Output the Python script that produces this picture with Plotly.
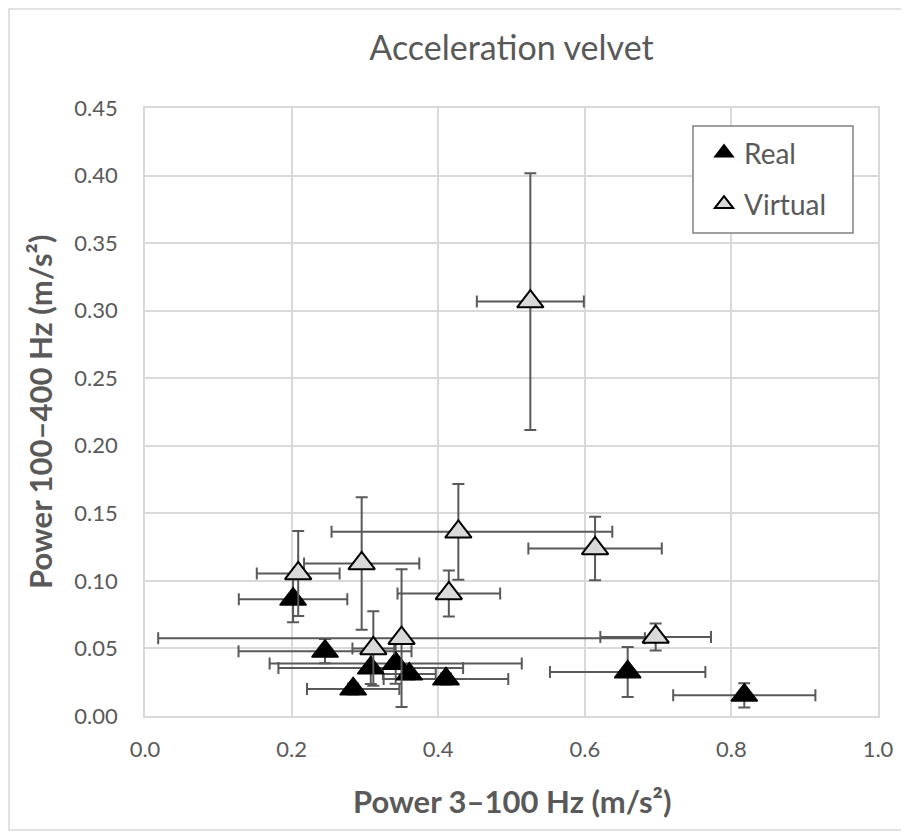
import plotly.graph_objects as go

# ---- data ----
real_x = [0.202, 0.2456, 0.308, 0.342, 0.3606, 0.4106, 0.284, 0.6585, 0.8176]
real_y = [0.0864, 0.048, 0.0356, 0.0388, 0.031, 0.0274, 0.020, 0.0326, 0.0153]
real_xerr = [0.074, 0.118, 0.126, 0.172, 0.036, 0.085, 0.063, 0.106, 0.097]
real_yerr = [0.017, 0.009, 0.012, 0.015, 0.004, 0.004, 0.004, 0.0185, 0.009]

virt_x = [0.209, 0.2956, 0.3115, 0.350, 0.4145, 0.4275, 0.5257, 0.614, 0.6967]
virt_y = [0.1055, 0.1129, 0.050, 0.0576, 0.0907, 0.1363, 0.3067, 0.124, 0.0585]
virt_xerr_plus = [0.0565, 0.0786, 0.0285, 0.332, 0.07, 0.21, 0.073, 0.091, 0.0755]
virt_xerr_minus = [0.0565, 0.0786, 0.0285, 0.332, 0.07, 0.173, 0.073, 0.091, 0.0755]
virt_yerr = [0.0315, 0.049, 0.0276, 0.051, 0.017, 0.0355, 0.095, 0.0235, 0.01]

x_ticks = [0.0, 0.2, 0.4, 0.6, 0.8, 1.0]
y_ticks = [0.00, 0.05, 0.10, 0.15, 0.20, 0.25, 0.30, 0.35, 0.40, 0.45]

FONT = "Lato, Carlito, Calibri, sans-serif"
GRAY = "#595959"
ERR = dict(color="#595959", thickness=2, width=6)

fig = go.Figure()
fig.add_trace(go.Scatter(
    x=real_x, y=real_y, mode="markers", name="Real", legendgroup="r",
    marker=dict(symbol="triangle-up", size=23, color="black",
                line=dict(color="black", width=1.5)),
    error_x=dict(type="data", array=real_xerr, **ERR),
    error_y=dict(type="data", array=real_yerr, **ERR),
))
fig.add_trace(go.Scatter(
    x=virt_x, y=virt_y, mode="markers", name="Virtual", legendgroup="v",
    marker=dict(symbol="triangle-up", size=23, color="#d9d9d9",
                line=dict(color="black", width=2)),
    error_x=dict(type="data", array=virt_xerr_plus, arrayminus=virt_xerr_minus, **ERR),
    error_y=dict(type="data", array=virt_yerr, **ERR),
))

# page coordinates of the plot area in the reference; the page body adds an 8px margin
OFF = 8
W, H = 909 - OFF, 837 - OFF
PL, PR, PT, PB = 145, 878, 108, 716          # page pixels
L, T = PL - OFF, PT - OFF
R, B = W - (PR - OFF), H - (PB - OFF)
PW, PH = PR - PL, PB - PT

def px(xp):
    return (xp - PL) / PW

def py(yp):
    return (PB - yp) / PH

fig.update_layout(
    width=W, height=H, autosize=False,
    margin=dict(l=L, r=R, t=T, b=B),
    plot_bgcolor="white", paper_bgcolor="white",
    font=dict(family=FONT, color=GRAY),
    title=dict(text="Acceleration velvet", x=0.5, xref="paper", xanchor="center",
               y=1 - (48 - OFF) / H, yref="container", yanchor="middle",
               font=dict(family=FONT, size=34, color=GRAY)),
    xaxis=dict(range=[0, 1], tickvals=x_ticks, tickformat=".1f",
               showgrid=True, gridcolor="#d9d9d9", gridwidth=1.5,
               showline=True, linecolor="#d9d9d9", linewidth=1.5, mirror=True,
               zeroline=False, ticks="", ticklabelstandoff=13,
               tickfont=dict(family=FONT, size=22, color=GRAY)),
    yaxis=dict(range=[0, 0.45], tickvals=y_ticks, tickformat=".2f",
               showgrid=True, gridcolor="#d9d9d9", gridwidth=1.5,
               showline=True, linecolor="#d9d9d9", linewidth=1.5, mirror=True,
               zeroline=False, ticks="", ticklabelstandoff=21,
               tickfont=dict(family=FONT, size=22, color=GRAY)),
    showlegend=True,
    legend=dict(x=px(704), y=py(128), xanchor="left", yanchor="top",
                bgcolor="rgba(0,0,0,0)", borderwidth=0,
                font=dict(family=FONT, size=28, color=GRAY),
                tracegroupgap=12, itemwidth=30),
    annotations=[
        dict(text="<b>Power 3–100 Hz (m/s²)</b>", x=0.5, y=py(801), xref="paper", yref="paper",
             xanchor="center", yanchor="middle", showarrow=False,
             font=dict(family=FONT, size=31, color=GRAY)),
        dict(text="<b>Power 100–400 Hz (m/s²)</b>", x=px(40), y=0.5, xref="paper", yref="paper",
             xanchor="center", yanchor="middle", showarrow=False, textangle=-90,
             font=dict(family=FONT, size=31, color=GRAY)),
    ],
    shapes=[
        dict(type="rect", xref="paper", yref="paper",
             x0=px(9), x1=px(906), y0=py(830), y1=py(9),
             line=dict(color="#d9d9d9", width=1.5), fillcolor="rgba(0,0,0,0)", layer="below"),
        dict(type="rect", xref="paper", yref="paper",
             x0=px(693), x1=px(853), y0=py(233), y1=py(126),
             line=dict(color="#808080", width=1.5), fillcolor="white", layer="above"),
    ],
)

fig.write_html("out.html")
